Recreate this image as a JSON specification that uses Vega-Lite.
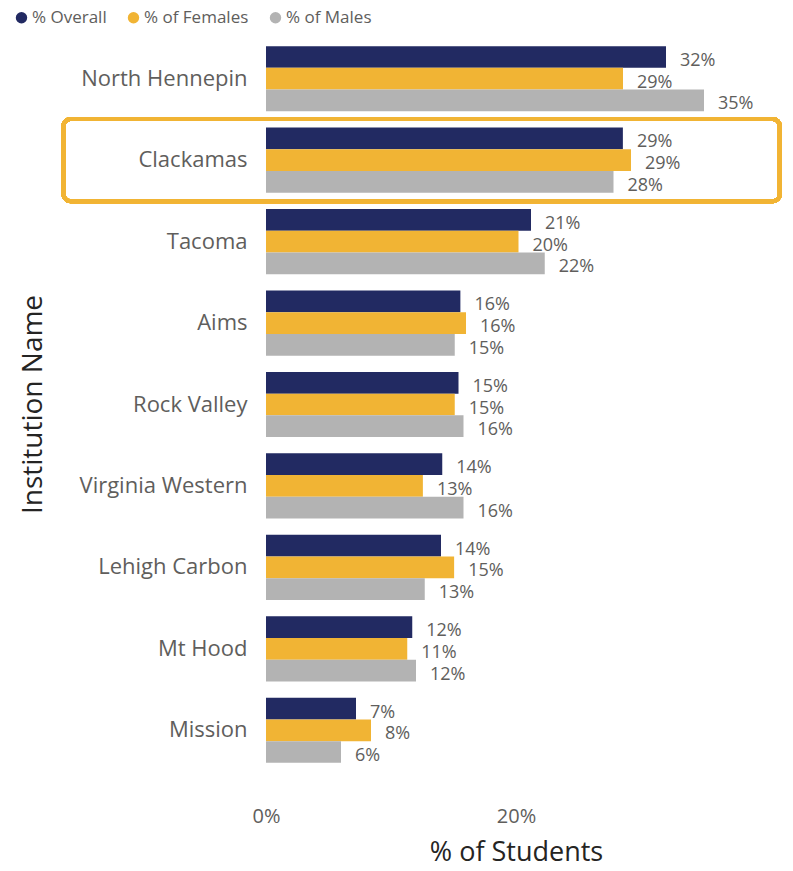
{
  "$schema": "https://vega.github.io/schema/vega-lite/v6.json",
  "width": 500,
  "height": 733,
  "autosize": {"type": "none"},
  "padding": {"left": 266, "top": 38, "right": 27, "bottom": 100},
  "background": "white",
  "config": {"view": {"stroke": null}, "font": "Open Sans"},
  "data": {
    "values": [
      {"Institution": "North Hennepin", "Measure": "% Overall", "Value": 0.32},
      {"Institution": "North Hennepin", "Measure": "% of Females", "Value": 0.2856},
      {"Institution": "North Hennepin", "Measure": "% of Males", "Value": 0.3504},
      {"Institution": "Clackamas", "Measure": "% Overall", "Value": 0.2855},
      {"Institution": "Clackamas", "Measure": "% of Females", "Value": 0.292},
      {"Institution": "Clackamas", "Measure": "% of Males", "Value": 0.278},
      {"Institution": "Tacoma", "Measure": "% Overall", "Value": 0.212},
      {"Institution": "Tacoma", "Measure": "% of Females", "Value": 0.202},
      {"Institution": "Tacoma", "Measure": "% of Males", "Value": 0.223},
      {"Institution": "Aims", "Measure": "% Overall", "Value": 0.1555},
      {"Institution": "Aims", "Measure": "% of Females", "Value": 0.16},
      {"Institution": "Aims", "Measure": "% of Males", "Value": 0.151},
      {"Institution": "Rock Valley", "Measure": "% Overall", "Value": 0.154},
      {"Institution": "Rock Valley", "Measure": "% of Females", "Value": 0.151},
      {"Institution": "Rock Valley", "Measure": "% of Males", "Value": 0.158},
      {"Institution": "Virginia Western", "Measure": "% Overall", "Value": 0.141},
      {"Institution": "Virginia Western", "Measure": "% of Females", "Value": 0.1255},
      {"Institution": "Virginia Western", "Measure": "% of Males", "Value": 0.158},
      {"Institution": "Lehigh Carbon", "Measure": "% Overall", "Value": 0.14},
      {"Institution": "Lehigh Carbon", "Measure": "% of Females", "Value": 0.1505},
      {"Institution": "Lehigh Carbon", "Measure": "% of Males", "Value": 0.127},
      {"Institution": "Mt Hood", "Measure": "% Overall", "Value": 0.117},
      {"Institution": "Mt Hood", "Measure": "% of Females", "Value": 0.113},
      {"Institution": "Mt Hood", "Measure": "% of Males", "Value": 0.12},
      {"Institution": "Mission", "Measure": "% Overall", "Value": 0.072},
      {"Institution": "Mission", "Measure": "% of Females", "Value": 0.084},
      {"Institution": "Mission", "Measure": "% of Males", "Value": 0.06}
    ]
  },
  "encoding": {
    "y": {
      "field": "Institution",
      "type": "nominal",
      "sort": null,
      "scale": {
        "domain": ["North Hennepin", "Clackamas", "Tacoma", "Aims", "Rock Valley", "Virginia Western", "Lehigh Carbon", "Mt Hood", "Mission"],
        "paddingInner": 0.2,
        "paddingOuter": 0.1
      },
      "axis": {
        "title": "Institution Name",
        "titleFontSize": 28,
        "titleFont": "Open Sans",
        "titleFontWeight": "normal",
        "titleColor": "#252423",
        "titleX": -233,
        "titleY": 366,
        "titleAngle": -90,
        "titleAlign": "center",
        "titleBaseline": "middle",
        "labelFontSize": 22,
        "labelFont": "Open Sans",
        "labelColor": "#605E5C",
        "labelPadding": 19,
        "ticks": false,
        "domain": false,
        "grid": false
      }
    }
  },
  "layer": [
    {
      "mark": {"type": "bar", "filled": false, "stroke": "#F1B434", "strokeWidth": 4, "cornerRadius": 7, "height": {"band": 1.26}, "clip": false},
      "encoding": {
        "x": {"datum": -0.162, "type": "quantitative"},
        "x2": {"datum": 0.411},
        "y": {"datum": "Clackamas", "type": "nominal"}
      }
    },
    {
      "mark": {"type": "bar"},
      "encoding": {
        "x": {
          "field": "Value",
          "type": "quantitative",
          "scale": {"domain": [0, 0.4], "nice": false, "zero": true},
          "axis": {
            "values": [0, 0.2],
            "format": ".0%",
            "title": "% of Students",
            "titleFontSize": 27,
            "titleFont": "Open Sans",
            "titleFontWeight": "normal",
            "titleColor": "#252423",
            "titlePadding": 13,
            "labelFontSize": 20,
            "labelColor": "#605E5C",
            "labelPadding": 35,
            "labelFlush": false,
            "ticks": false,
            "domain": false,
            "grid": false
          }
        },
        "yOffset": {"field": "Measure", "type": "nominal", "sort": ["% Overall", "% of Females", "% of Males"], "scale": {"paddingInner": 0, "paddingOuter": 0}},
        "color": {
          "field": "Measure",
          "type": "nominal",
          "sort": ["% Overall", "% of Females", "% of Males"],
          "scale": {"domain": ["% Overall", "% of Females", "% of Males"], "range": ["#222A62", "#F1B434", "#B3B3B3"]},
          "legend": {
            "orient": "none",
            "legendX": -253,
            "legendY": -29,
            "direction": "horizontal",
            "title": null,
            "symbolType": "circle",
            "symbolSize": 130,
            "labelFontSize": 17,
            "labelColor": "#605E5C",
            "labelOffset": 2,
            "columnPadding": 18
          }
        }
      }
    },
    {
      "mark": {"type": "text", "align": "left", "dx": 14, "dy": 4, "fontSize": 18, "color": "#605E5C", "font": "Open Sans"},
      "encoding": {
        "x": {"field": "Value", "type": "quantitative"},
        "yOffset": {"field": "Measure", "type": "nominal", "sort": ["% Overall", "% of Females", "% of Males"]},
        "text": {"field": "Value", "type": "quantitative", "format": ".0%"}
      }
    }
  ]
}
